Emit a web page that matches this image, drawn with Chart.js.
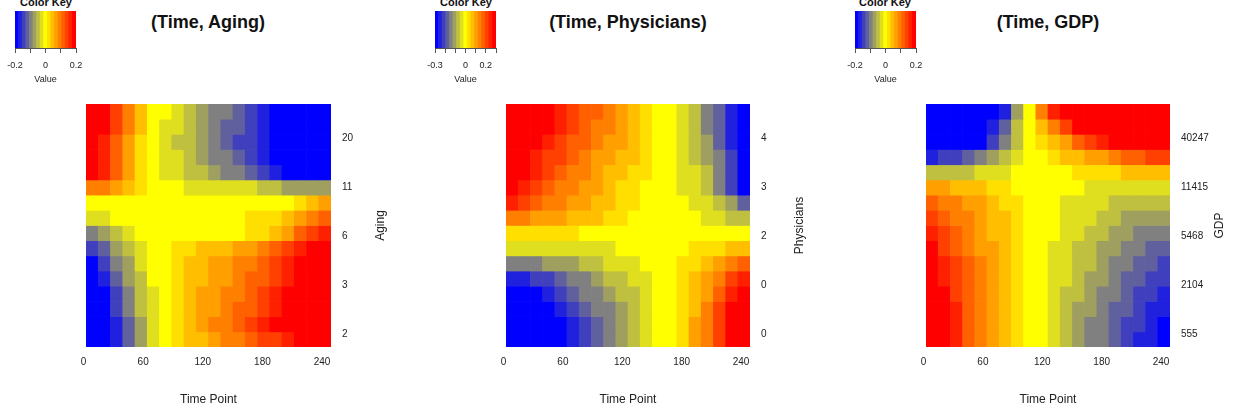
<!DOCTYPE html>
<html lang="en">
<head>
    <meta charset="UTF-8">
    <title>Time heatmaps</title>
    <script src="https://cdn.jsdelivr.net/npm/chart.js"></script>
    <style>
        body {
            margin: 0;
            width: 1239px;
            height: 414px;
            position: relative;
            overflow: hidden;
            background: #fff;
            font-family: "Liberation Sans", Arial, sans-serif;
            color: #222;
        }
        canvas { position: absolute; top: 0; }
        .title {
            position: absolute;
            top: 13px;
            width: 300px;
            text-align: center;
            font-size: 18px;
            line-height: 18px;
            font-weight: bold;
            color: #111;
        }
        .keytitle {
            position: absolute;
            top: -3px;
            width: 100px;
            text-align: center;
            font-size: 11px;
            line-height: 11px;
            font-weight: bold;
            color: #111;
        }
    </style>
</head>
<body>
<div class="keytitle" style="left:-4px">Color Key</div>
<div class="keytitle" style="left:416px">Color Key</div>
<div class="keytitle" style="left:835px">Color Key</div>
<div class="title" style="left:58px">(Time, Aging)</div>
<div class="title" style="left:478px">(Time, Physicians)</div>
<div class="title" style="left:898px">(Time, GDP)</div>

<canvas id="key1" width="100" height="95" style="left:0px"></canvas>
<canvas id="key2" width="100" height="95" style="left:420px"></canvas>
<canvas id="key3" width="100" height="95" style="left:840px"></canvas>
<canvas id="aging" width="413" height="414" style="left:0px"></canvas>
<canvas id="physicians" width="413" height="414" style="left:413px"></canvas>
<canvas id="gdp" width="413" height="414" style="left:826px"></canvas>

<script>
    Chart.defaults.font.family = '"Liberation Sans", Arial, sans-serif';
    Chart.defaults.color = '#222';

    // time columns of the heatmaps (left to right)
    const timeCols = [6, 18, 30, 42, 54, 66, 78, 90, 102, 114, 126, 138, 150, 162, 174, 186, 198, 210, 222, 234];
    const timeTicks = [0, 60, 120, 180, 240];

    // covariate labels on the right, bottom to top, and the rank (%) where each sits
    const agingTicks = ['2', '3', '6', '11', '20'];
    const physiciansTicks = ['0', '0', '2', '3', '4'];
    const gdpTicks = ['555', '2104', '5468', '11415', '40247'];
    const tickRank = [5.2, 25.4, 45.5, 65.6, 85.8];

    // colour key ticks
    const keyTicks = [-0.2, -0.1, 0, 0.1, 0.2];
    const keyLabels = ['-0.2', '', '0', '', '0.2'];
    const physKeyTicks = [-0.3, -0.2, -0.1, 0, 0.1, 0.2, 0.3];
    const physKeyLabels = ['-0.3', '', '', '0', '', '0.2', ''];

    // values, one row per covariate band (top row first)
    const agingGrid = [
        [0.2,0.2,0.15,0.1,0.05,0,0,-0.03,-0.05,-0.08,-0.1,-0.1,-0.13,-0.15,-0.18,-0.2,-0.2,-0.2,-0.2,-0.2],
        [0.2,0.2,0.15,0.1,0.05,0,-0.03,-0.03,-0.05,-0.08,-0.1,-0.13,-0.13,-0.15,-0.18,-0.2,-0.2,-0.2,-0.2,-0.2],
        [0.2,0.18,0.13,0.08,0.03,0,-0.03,-0.05,-0.05,-0.08,-0.1,-0.13,-0.15,-0.15,-0.18,-0.2,-0.2,-0.2,-0.2,-0.2],
        [0.2,0.18,0.13,0.08,0.03,0,-0.03,-0.03,-0.05,-0.08,-0.1,-0.1,-0.13,-0.15,-0.18,-0.2,-0.2,-0.2,-0.2,-0.2],
        [0.2,0.18,0.13,0.08,0.03,0,-0.03,-0.03,-0.05,-0.05,-0.08,-0.1,-0.1,-0.13,-0.15,-0.18,-0.2,-0.2,-0.2,-0.2],
        [0.1,0.1,0.08,0.05,0.03,0,0,0,-0.03,-0.03,-0.03,-0.03,-0.03,-0.03,-0.05,-0.05,-0.08,-0.08,-0.08,-0.08],
        [0,0,0,0,0,0,0,0,0,0,0,0,0,0,0,0,0,0.03,0.05,0.08],
        [-0.03,-0.03,0,0,0,0,0,0,0,0,0,0,0,0.03,0.03,0.03,0.05,0.08,0.1,0.13],
        [-0.1,-0.08,-0.05,-0.03,0,0,0,0,0,0,0,0,0,0.03,0.03,0.05,0.08,0.13,0.15,0.18],
        [-0.15,-0.13,-0.08,-0.05,-0.03,0,0,0.03,0.03,0.05,0.05,0.05,0.08,0.08,0.1,0.13,0.15,0.18,0.2,0.2],
        [-0.2,-0.15,-0.1,-0.08,-0.03,0,0,0.03,0.05,0.05,0.08,0.08,0.1,0.1,0.13,0.15,0.18,0.2,0.2,0.2],
        [-0.2,-0.18,-0.13,-0.08,-0.05,0,0,0.03,0.05,0.05,0.08,0.08,0.1,0.13,0.13,0.15,0.18,0.2,0.2,0.2],
        [-0.2,-0.2,-0.15,-0.1,-0.05,-0.03,0,0.03,0.05,0.08,0.08,0.1,0.1,0.13,0.15,0.18,0.2,0.2,0.2,0.2],
        [-0.2,-0.2,-0.15,-0.1,-0.05,-0.03,0,0.03,0.05,0.08,0.08,0.1,0.13,0.13,0.15,0.18,0.2,0.2,0.2,0.2],
        [-0.2,-0.2,-0.18,-0.13,-0.08,-0.03,0,0.03,0.05,0.08,0.1,0.1,0.13,0.15,0.18,0.2,0.2,0.2,0.2,0.2],
        [-0.2,-0.2,-0.18,-0.13,-0.08,-0.03,0,0.03,0.05,0.05,0.08,0.1,0.1,0.13,0.15,0.15,0.18,0.2,0.2,0.2]
    ];

    const physiciansGrid = [
        [0.3,0.3,0.3,0.3,0.26,0.23,0.19,0.19,0.15,0.11,0.08,0.04,0,0,-0.04,-0.08,-0.15,-0.19,-0.26,-0.3],
        [0.3,0.3,0.3,0.3,0.26,0.23,0.19,0.15,0.15,0.11,0.08,0.04,0,0,-0.04,-0.08,-0.15,-0.19,-0.26,-0.3],
        [0.3,0.3,0.3,0.26,0.23,0.19,0.19,0.15,0.11,0.11,0.08,0.04,0,0,-0.04,-0.08,-0.11,-0.19,-0.26,-0.3],
        [0.3,0.3,0.26,0.23,0.23,0.19,0.15,0.11,0.11,0.08,0.08,0.04,0,0,-0.04,-0.08,-0.11,-0.15,-0.23,-0.3],
        [0.3,0.3,0.26,0.23,0.19,0.15,0.15,0.11,0.08,0.08,0.04,0.04,0,0,-0.04,-0.04,-0.08,-0.15,-0.23,-0.3],
        [0.3,0.26,0.23,0.19,0.15,0.15,0.11,0.11,0.08,0.04,0.04,0,0,0,-0.04,-0.04,-0.08,-0.15,-0.23,-0.3],
        [0.26,0.23,0.19,0.15,0.15,0.11,0.11,0.08,0.08,0.04,0.04,0,0,0,0,-0.04,-0.04,-0.08,-0.11,-0.19],
        [0.15,0.15,0.11,0.11,0.11,0.08,0.08,0.08,0.04,0.04,0,0,0,0,0,0,-0.04,-0.04,-0.08,-0.08],
        [0.04,0.04,0.04,0.04,0.04,0.04,0,0,0,0,0,0,0,0,0,0,0,0,0,0],
        [-0.04,-0.04,-0.04,-0.04,-0.04,-0.04,-0.04,-0.04,-0.04,0,0,0,0,0,0,0.04,0.04,0.04,0.08,0.08],
        [-0.15,-0.15,-0.15,-0.11,-0.11,-0.11,-0.08,-0.08,-0.04,-0.04,-0.04,0,0,0,0.04,0.04,0.08,0.11,0.15,0.19],
        [-0.26,-0.26,-0.23,-0.23,-0.19,-0.15,-0.15,-0.11,-0.08,-0.08,-0.04,-0.04,0,0,0.04,0.08,0.11,0.15,0.23,0.26],
        [-0.3,-0.3,-0.3,-0.26,-0.23,-0.19,-0.15,-0.15,-0.11,-0.08,-0.08,-0.04,0,0,0.04,0.08,0.11,0.19,0.26,0.3],
        [-0.3,-0.3,-0.3,-0.3,-0.26,-0.23,-0.19,-0.15,-0.15,-0.11,-0.08,-0.04,0,0,0.04,0.08,0.15,0.23,0.3,0.3],
        [-0.3,-0.3,-0.3,-0.3,-0.3,-0.26,-0.23,-0.19,-0.15,-0.11,-0.08,-0.04,0,0,0.04,0.11,0.15,0.23,0.3,0.3],
        [-0.3,-0.3,-0.3,-0.3,-0.3,-0.26,-0.23,-0.19,-0.15,-0.11,-0.08,-0.04,0,0,0.04,0.11,0.15,0.23,0.3,0.3]
    ];

    const gdpGrid = [
        [-0.2,-0.2,-0.2,-0.2,-0.2,-0.2,-0.18,-0.08,0,0.1,0.18,0.2,0.2,0.2,0.2,0.2,0.2,0.2,0.2,0.2],
        [-0.2,-0.2,-0.2,-0.2,-0.2,-0.18,-0.13,-0.05,0,0.05,0.1,0.15,0.2,0.2,0.2,0.2,0.2,0.2,0.2,0.2],
        [-0.2,-0.2,-0.2,-0.2,-0.2,-0.15,-0.1,-0.05,0,0.03,0.05,0.08,0.13,0.15,0.18,0.2,0.2,0.2,0.2,0.2],
        [-0.18,-0.15,-0.15,-0.13,-0.1,-0.08,-0.05,-0.03,0,0,0.03,0.05,0.05,0.08,0.08,0.1,0.13,0.13,0.15,0.15],
        [-0.05,-0.05,-0.05,-0.05,-0.03,-0.03,-0.03,0,0,0,0,0,0.03,0.03,0.03,0.03,0.05,0.05,0.05,0.05],
        [0.08,0.08,0.05,0.05,0.05,0.03,0.03,0,0,0,0,0,0,-0.03,-0.03,-0.03,-0.03,-0.03,-0.03,-0.03],
        [0.13,0.1,0.1,0.08,0.08,0.05,0.03,0.03,0,0,0,-0.03,-0.03,-0.03,-0.03,-0.05,-0.05,-0.05,-0.05,-0.05],
        [0.15,0.13,0.1,0.1,0.08,0.05,0.05,0.03,0,0,0,-0.03,-0.03,-0.03,-0.05,-0.05,-0.08,-0.08,-0.08,-0.08],
        [0.18,0.15,0.13,0.1,0.08,0.05,0.05,0.03,0,0,0,-0.03,-0.03,-0.05,-0.05,-0.08,-0.08,-0.1,-0.1,-0.1],
        [0.2,0.15,0.13,0.1,0.08,0.08,0.05,0.03,0,0,-0.03,-0.03,-0.05,-0.05,-0.08,-0.08,-0.1,-0.1,-0.13,-0.13],
        [0.2,0.18,0.15,0.13,0.1,0.08,0.05,0.03,0,0,-0.03,-0.03,-0.05,-0.05,-0.08,-0.1,-0.1,-0.13,-0.13,-0.15],
        [0.2,0.18,0.15,0.13,0.1,0.08,0.05,0.03,0,0,-0.03,-0.03,-0.05,-0.08,-0.08,-0.1,-0.13,-0.13,-0.15,-0.15],
        [0.2,0.2,0.15,0.13,0.1,0.08,0.05,0.03,0,0,-0.03,-0.05,-0.05,-0.08,-0.1,-0.1,-0.13,-0.15,-0.15,-0.18],
        [0.2,0.2,0.18,0.13,0.1,0.08,0.05,0.03,0,0,-0.03,-0.05,-0.08,-0.08,-0.1,-0.13,-0.13,-0.15,-0.18,-0.18],
        [0.2,0.2,0.18,0.13,0.1,0.08,0.05,0.03,0,0,-0.03,-0.05,-0.08,-0.1,-0.1,-0.13,-0.15,-0.15,-0.18,-0.2],
        [0.2,0.2,0.18,0.13,0.1,0.08,0.05,0.03,0,0,-0.03,-0.05,-0.08,-0.1,-0.1,-0.13,-0.15,-0.18,-0.18,-0.2]
    ];

    // blue -> yellow -> red, t in [-1, 1]
    function rampColor(t) {
        if (t < 0) {
            const s = 1 + t;
            return `rgb(${Math.round(255 * s)},${Math.round(255 * s)},${Math.round(255 * (1 - s))})`;
        }
        return `rgb(255,${Math.round(255 * (1 - t))},0)`;
    }

    // 8 colour steps either side of zero
    function heatColor(v, lim) {
        const t = Math.round(v / lim * 8) / 8;
        return rampColor(Math.max(-1, Math.min(1, t)));
    }

    // rotated axis name on the right side, reading bottom to top
    const sideTitle = {
        id: 'sideTitle',
        afterDraw(chart, args, opts) {
            const {ctx, chartArea} = chart;
            ctx.save();
            ctx.translate(chartArea.right + 50, (chartArea.top + chartArea.bottom) / 2);
            ctx.rotate(-Math.PI / 2);
            ctx.font = '12px "Liberation Sans", Arial, sans-serif';
            ctx.fillStyle = '#222';
            ctx.textAlign = 'center';
            ctx.textBaseline = 'middle';
            ctx.fillText(opts.text, 0, 0);
            ctx.restore();
        }
    };

    function heatPanel(id, grid, lim, tickLabels, yTitle, left, axisWidth) {
        const rowH = 100 / grid.length;
        const datasets = grid.map((row, r) => {
            const lo = (grid.length - 1 - r) * rowH;
            return {
                data: row.map(() => [lo, lo + rowH]),
                backgroundColor: row.map(v => heatColor(v, lim)),
                borderWidth: 0,
                grouped: false,
                barPercentage: 1,
                categoryPercentage: 1
            };
        });

        new Chart(document.getElementById(id), {
            type: 'bar',
            data: { labels: timeCols, datasets: datasets },
            options: {
                responsive: false,
                animation: false,
                layout: { padding: { left: left, top: 104, right: 0, bottom: 0 } },
                plugins: {
                    legend: { display: false },
                    tooltip: { enabled: false },
                    sideTitle: { text: yTitle }
                },
                scales: {
                    x: { type: 'category', display: false },
                    xt: {
                        type: 'linear',
                        position: 'bottom',
                        offset: false,
                        min: 2.5,
                        max: 249,
                        grid: { display: false, drawTicks: false, offset: false },
                        border: { display: false },
                        afterBuildTicks: s => { s.ticks = timeTicks.map(v => ({ value: v })); },
                        ticks: { padding: 9, maxRotation: 0, font: { size: 10 }, color: '#222' },
                        title: {
                            display: true,
                            text: 'Time Point',
                            color: '#222',
                            font: { size: 12 },
                            padding: { top: 0, bottom: 7 }
                        },
                        afterFit: s => { s.height = 67; }
                    },
                    y: {
                        position: 'right',
                        min: 0,
                        max: 100,
                        grid: { display: false, drawTicks: false },
                        border: { display: false },
                        afterBuildTicks: s => { s.ticks = tickRank.map(v => ({ value: v })); },
                        ticks: {
                            padding: 11,
                            font: { size: 10 },
                            color: '#222',
                            callback: (v, i) => tickLabels[i]
                        },
                        afterFit: s => { s.width = axisWidth; }
                    }
                }
            },
            plugins: [sideTitle]
        });
    }

    function colorKey(id, lim, ticks, labels) {
        const nBands = 17;
        const bands = Array.from({ length: nBands }, (_, i) => i);
        new Chart(document.getElementById(id), {
            type: 'bar',
            data: {
                labels: bands,
                datasets: [{
                    data: bands.map(() => [0, 1]),
                    backgroundColor: bands.map(i => rampColor((i - 8) / 8)),
                    borderWidth: 0,
                    barPercentage: 1,
                    categoryPercentage: 1
                }]
            },
            options: {
                responsive: false,
                animation: false,
                layout: { padding: { left: 15, right: 24, top: 11, bottom: 0 } },
                plugins: { legend: { display: false }, tooltip: { enabled: false } },
                scales: {
                    x: { type: 'category', display: false },
                    y: { display: false, min: 0, max: 1 },
                    xv: {
                        type: 'linear',
                        position: 'bottom',
                        offset: false,
                        min: -lim,
                        max: lim,
                        grid: { drawOnChartArea: false, drawTicks: true, tickLength: 5, color: '#555', offset: false },
                        border: { display: true, color: '#555' },
                        afterBuildTicks: s => { s.ticks = ticks.map(v => ({ value: v })); },
                        ticks: {
                            padding: 7,
                            maxRotation: 0,
                            autoSkip: false,
                            font: { size: 9 },
                            color: '#222',
                            callback: (v, i) => labels[i]
                        },
                        title: {
                            display: true,
                            text: 'Value',
                            color: '#222',
                            font: { size: 9 },
                            padding: { top: 0, bottom: 10 }
                        },
                        afterFit: s => { s.height = 47; }
                    }
                }
            }
        });
    }

    colorKey('key1', 0.2, keyTicks, keyLabels);
    colorKey('key2', 0.3, physKeyTicks, physKeyLabels);
    colorKey('key3', 0.2, keyTicks, keyLabels);

    heatPanel('aging', agingGrid, 0.2, agingTicks, 'Aging', 86, 82);
    heatPanel('physicians', physiciansGrid, 0.3, physiciansTicks, 'Physicians', 93, 76);
    heatPanel('gdp', gdpGrid, 0.2, gdpTicks, 'GDP', 100, 69);
</script>
</body>
</html>
